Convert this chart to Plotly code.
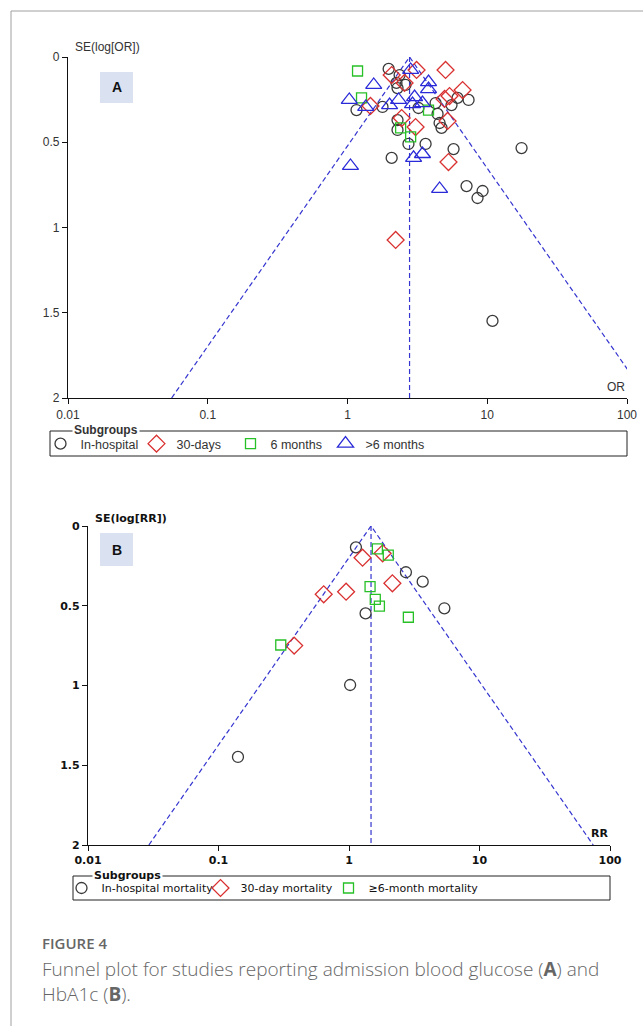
import numpy as np
import plotly.graph_objects as go

W, H = 643, 1026

# ---- Panel A: admission blood glucose (odds ratio vs SE of log OR) ----
inhosp_or = [1.97, 2.36, 2.24, 2.60, 2.28, 1.16, 1.78, 3.22, 4.27, 5.55, 6.13, 7.35, 4.41,
             4.56, 4.71, 2.28, 2.28, 2.73, 3.62, 5.74, 2.07, 17.6, 7.11, 9.26, 8.52, 10.9]
inhosp_se = [0.070, 0.106, 0.152, 0.164, 0.182, 0.311, 0.293, 0.299, 0.270, 0.282, 0.240,
             0.252, 0.334, 0.387, 0.416, 0.370, 0.428, 0.510, 0.510, 0.540, 0.592, 0.534,
             0.757, 0.786, 0.827, 1.548]

d30_or = [2.07, 3.12, 5.03, 2.56, 6.66, 4.95, 5.37, 1.46, 2.44, 5.20, 3.07, 5.28, 2.21]
d30_se = [0.106, 0.076, 0.076, 0.152, 0.194, 0.246, 0.229, 0.287, 0.358, 0.375, 0.411,
          0.616, 1.073]

m6_or = [1.18, 1.26, 3.80, 2.40, 2.83]
m6_se = [0.082, 0.240, 0.311, 0.416, 0.469]

gt6_or = [2.83, 1.54, 3.80, 3.80, 1.03, 1.35, 2.00, 2.32, 3.02, 2.92, 3.44, 1.05, 2.97,
          3.44, 4.56]
gt6_se = [0.076, 0.164, 0.147, 0.188, 0.252, 0.293, 0.282, 0.252, 0.235, 0.276, 0.270,
          0.639, 0.592, 0.569, 0.774]

pooled_or = 2.78

# ---- Panel B: HbA1c (risk ratio vs SE of log RR) ----
b_inhosp_rr = [1.13, 2.73, 3.67, 5.38, 1.34, 1.02, 0.141]
b_inhosp_se = [0.134, 0.290, 0.349, 0.516, 0.548, 0.997, 1.448]

b_d30_rr = [1.27, 1.81, 2.15, 0.95, 0.64, 0.38]
b_d30_se = [0.199, 0.171, 0.359, 0.412, 0.428, 0.750]

b_m6_rr = [1.65, 2.00, 1.45, 1.59, 1.71, 2.85, 0.30]
b_m6_se = [0.144, 0.182, 0.380, 0.460, 0.502, 0.572, 0.746]

pooled_rr = 1.475

tick_vals = [0.01, 0.1, 1, 10, 100]
tick_text = ["0.01", "0.1", "1", "10", "100"]
se_ticks = [0, 0.5, 1, 1.5, 2]
se_text = ["0", "0.5", "1", "1.5", "2"]

BLACK = "#3a3a3a"
RED = "#d93030"
GREEN = "#27c027"
BLUE = "#2a2ad8"
FUNNEL = "#3535d0"

FONT_A = "Liberation Sans, Arial, sans-serif"
FONT_B = "DejaVu Sans, sans-serif"


def px(x):
    return x / W


def py(y):
    return 1 - y / H


def funnel_traces(pooled, xa, ya):
    se_max = 2.0
    lo = pooled * np.exp(-1.96 * se_max)
    hi = pooled * np.exp(1.96 * se_max)
    line = dict(color=FUNNEL, width=1.2, dash="5px,3px")
    return [
        go.Scatter(x=[lo, pooled, hi], y=[se_max, 0, se_max], mode="lines", line=line,
                   xaxis=xa, yaxis=ya, showlegend=False, hoverinfo="skip"),
        go.Scatter(x=[pooled, pooled], y=[0, se_max], mode="lines", line=line,
                   xaxis=xa, yaxis=ya, showlegend=False, hoverinfo="skip"),
    ]


fig = go.Figure()
for t in funnel_traces(pooled_or, "x", "y"):
    fig.add_trace(t)
for t in funnel_traces(pooled_rr, "x2", "y2"):
    fig.add_trace(t)


def mk(sym, col, size):
    return dict(symbol=sym, size=size, color=col, line=dict(color=col, width=1.3))


# each subgroup gets its own legend so entries can sit at fixed places in the key box
series = [
    (inhosp_or, inhosp_se, "In-hospital", "circle-open", BLACK, 11, "x", "y", "legend"),
    (d30_or, d30_se, "30-days", "diamond-open", RED, 13, "x", "y", "legend2"),
    (m6_or, m6_se, "6 months", "square-open", GREEN, 10, "x", "y", "legend3"),
    (gt6_or, gt6_se, ">6 months", "triangle-up-open", BLUE, 14, "x", "y", "legend4"),
    (b_inhosp_rr, b_inhosp_se, "In-hospital mortality", "circle-open", BLACK, 11, "x2", "y2", "legend5"),
    (b_d30_rr, b_d30_se, "30-day mortality", "diamond-open", RED, 13, "x2", "y2", "legend6"),
    (b_m6_rr, b_m6_se, "≥6-month mortality", "square-open", GREEN, 10, "x2", "y2", "legend7"),
]
for xs, ys, name, sym, col, size, xa, ya, leg in series:
    fig.add_trace(go.Scatter(x=xs, y=ys, mode="markers", name=name,
                             marker=mk(sym, col, size), xaxis=xa, yaxis=ya, legend=leg))

xcommon = dict(type="log", range=[-2, 2], tickvals=tick_vals, ticktext=tick_text,
               showline=True, linecolor="#111", linewidth=1.3, ticks="outside",
               ticklen=5, tickcolor="#111", showgrid=False, zeroline=False,
               automargin=False, fixedrange=True)
ycommon = dict(range=[2, 0], tickvals=se_ticks, ticktext=se_text, showline=True,
               linecolor="#111", linewidth=1.3, ticks="outside", ticklen=5,
               tickcolor="#111", showgrid=False, zeroline=False, automargin=False,
               fixedrange=True)


def legend_at(x_sym, y_mid, font):
    return dict(orientation="h", x=px(x_sym - 20.5), y=py(y_mid), xanchor="left",
                yanchor="middle", bgcolor="rgba(0,0,0,0)", borderwidth=0,
                font=font, itemwidth=30)


font_leg_a = dict(family=FONT_A, size=12.5, color="#333")
font_leg_b = dict(family=FONT_B, size=11, color="#111")

fig.update_layout(
    width=W, height=H,
    margin=dict(l=0, r=0, t=0, b=0),
    paper_bgcolor="white", plot_bgcolor="white",
    xaxis=dict(xcommon, domain=[px(68), px(627)], anchor="y",
               tickfont=dict(family=FONT_A, size=12, color="#333")),
    yaxis=dict(ycommon, domain=[py(398), py(57)], anchor="x",
               tickfont=dict(family=FONT_A, size=12, color="#333")),
    xaxis2=dict(xcommon, domain=[px(88), px(610)], anchor="y2",
                tickfont=dict(family=FONT_B, size=11, color="#111", weight="bold")),
    yaxis2=dict(ycommon, domain=[py(845), py(526)], anchor="x2",
                tickfont=dict(family=FONT_B, size=11, color="#111", weight="bold")),
    legend=legend_at(61, 444, font_leg_a),
    legend2=legend_at(157, 444, font_leg_a),
    legend3=legend_at(251, 444, font_leg_a),
    legend4=legend_at(346, 444, font_leg_a),
    legend5=legend_at(82, 888, font_leg_b),
    legend6=legend_at(221, 888, font_leg_b),
    legend7=legend_at(349, 888, font_leg_b),
    showlegend=True,
)

shapes = [
    # outer frame
    dict(type="rect", xref="paper", yref="paper", x0=px(11), x1=px(680), y0=py(1060),
         y1=py(11), line=dict(color="#a0a0a0", width=1)),
    # panel letter boxes
    dict(type="rect", xref="paper", yref="paper", x0=px(100), x1=px(133), y0=py(103),
         y1=py(72), fillcolor="#dae2f1", line=dict(width=0)),
    dict(type="rect", xref="paper", yref="paper", x0=px(100), x1=px(133), y0=py(566),
         y1=py(533), fillcolor="#dae2f1", line=dict(width=0)),
    # key frames
    dict(type="rect", xref="paper", yref="paper", x0=px(50), x1=px(627), y0=py(456),
         y1=py(431), line=dict(color="#222", width=1)),
    dict(type="rect", xref="paper", yref="paper", x0=px(73), x1=px(610), y0=py(900),
         y1=py(876), line=dict(color="#222", width=1)),
]

ann = [
    dict(text="SE(log[OR])", x=px(73), y=py(47), xanchor="left", yanchor="middle",
         font=dict(family=FONT_A, size=12, color="#333")),
    dict(text="OR", x=px(627), y=py(387), xanchor="right", yanchor="middle",
         font=dict(family=FONT_A, size=12, color="#333")),
    dict(text="<b>A</b>", x=px(116.5), y=py(87.5), xanchor="center", yanchor="middle",
         font=dict(family=FONT_A, size=14, color="#111")),
    dict(text="<b>Subgroups</b>", x=px(72), y=py(430), xanchor="left", yanchor="middle",
         bgcolor="white", borderpad=1, font=dict(family=FONT_A, size=12, color="#333")),
    dict(text="<b>SE(log[RR])</b>", x=px(93), y=py(518), xanchor="left", yanchor="middle",
         font=dict(family=FONT_B, size=11, color="#111")),
    dict(text="<b>RR</b>", x=px(610), y=py(833), xanchor="right", yanchor="middle",
         font=dict(family=FONT_B, size=11, color="#111")),
    dict(text="<b>B</b>", x=px(116.5), y=py(549.5), xanchor="center", yanchor="middle",
         font=dict(family=FONT_A, size=14, color="#111")),
    dict(text="<b>Subgroups</b>", x=px(92), y=py(875), xanchor="left", yanchor="middle",
         bgcolor="white", borderpad=1, font=dict(family=FONT_B, size=11, color="#111")),
    dict(text="FIGURE 4", x=px(40), y=py(943), xanchor="left", yanchor="middle",
         font=dict(family="Open Sans, sans-serif", size=15, color="#666", weight=600)),
    dict(text="Funnel plot for studies reporting admission blood glucose (<b>A</b>) and",
         x=px(40), y=py(969), xanchor="left", yanchor="middle",
         font=dict(family="Open Sans, sans-serif", size=19, color="#666", weight=300)),
    dict(text="HbA1c (<b>B</b>).", x=px(40), y=py(994), xanchor="left", yanchor="middle",
         font=dict(family="Open Sans, sans-serif", size=19, color="#666", weight=300)),
]
for a in ann:
    a.update(xref="paper", yref="paper", showarrow=False)

fig.update_layout(shapes=shapes, annotations=ann)

fig.write_html("out.html")
